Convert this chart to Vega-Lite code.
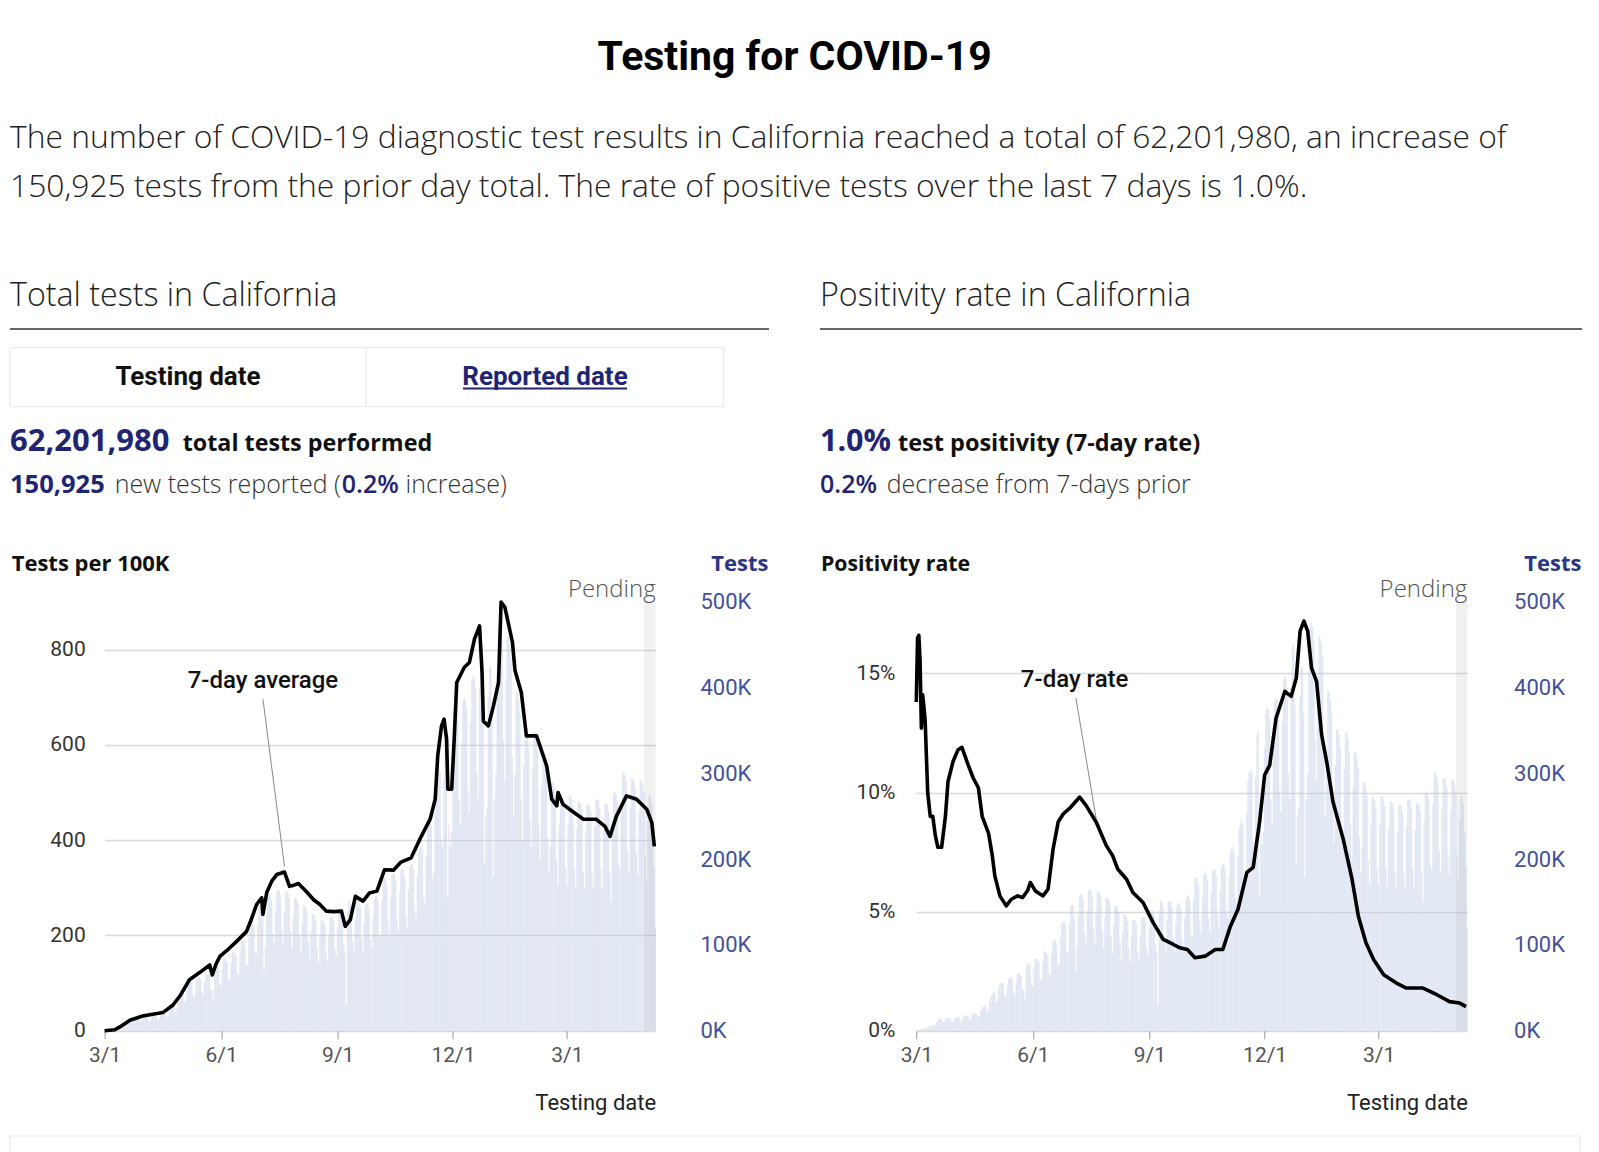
{
"$schema": "https://vega.github.io/schema/vega-lite/v6.json",
"autosize": {"type": "none"},
"padding": {"left": 104.6, "top": 602, "right": 1494.4, "bottom": 550},
"background": "white",
"bounds": "flush",
"spacing": 260.7,
"config": {"font": "Roboto", "view": {"stroke": null}, "axis": {"labelFont": "Roboto", "titleFont": "Roboto"}, "text": {"font": "Roboto"}},
"datasets": {
"tests": [
{"date":"2020-03-01","tests":0.5},{"date":"2020-03-02","tests":1},{"date":"2020-03-03","tests":1.5},{"date":"2020-03-04","tests":2},{"date":"2020-03-05","tests":2.5},{"date":"2020-03-06","tests":3},{"date":"2020-03-07","tests":2},
{"date":"2020-03-08","tests":3},{"date":"2020-03-09","tests":4},{"date":"2020-03-10","tests":5},{"date":"2020-03-11","tests":5},{"date":"2020-03-12","tests":6},{"date":"2020-03-13","tests":7},{"date":"2020-03-14","tests":5},
{"date":"2020-03-15","tests":7},{"date":"2020-03-16","tests":10},{"date":"2020-03-17","tests":12},{"date":"2020-03-18","tests":13},{"date":"2020-03-19","tests":14},{"date":"2020-03-20","tests":14},{"date":"2020-03-21","tests":11},
{"date":"2020-03-22","tests":10},{"date":"2020-03-23","tests":13},{"date":"2020-03-24","tests":15},{"date":"2020-03-25","tests":15},{"date":"2020-03-26","tests":15},{"date":"2020-03-27","tests":15},{"date":"2020-03-28","tests":11},
{"date":"2020-03-29","tests":10},{"date":"2020-03-30","tests":14},{"date":"2020-03-31","tests":16},{"date":"2020-04-01","tests":16},{"date":"2020-04-02","tests":16},{"date":"2020-04-03","tests":15},{"date":"2020-04-04","tests":12},
{"date":"2020-04-05","tests":11},{"date":"2020-04-06","tests":15},{"date":"2020-04-07","tests":18},{"date":"2020-04-08","tests":18},{"date":"2020-04-09","tests":17},{"date":"2020-04-10","tests":17},{"date":"2020-04-11","tests":13},
{"date":"2020-04-12","tests":13},{"date":"2020-04-13","tests":18},{"date":"2020-04-14","tests":21},{"date":"2020-04-15","tests":20},{"date":"2020-04-16","tests":20},{"date":"2020-04-17","tests":19},{"date":"2020-04-18","tests":15},
{"date":"2020-04-19","tests":17},{"date":"2020-04-20","tests":23},{"date":"2020-04-21","tests":27},{"date":"2020-04-22","tests":28},{"date":"2020-04-23","tests":29},{"date":"2020-04-24","tests":29},{"date":"2020-04-25","tests":22},
{"date":"2020-04-26","tests":25},{"date":"2020-04-27","tests":35},{"date":"2020-04-28","tests":40},{"date":"2020-04-29","tests":43},{"date":"2020-04-30","tests":44},{"date":"2020-05-01","tests":45},{"date":"2020-05-02","tests":33},
{"date":"2020-05-03","tests":34},{"date":"2020-05-04","tests":47},{"date":"2020-05-05","tests":54},{"date":"2020-05-06","tests":55},{"date":"2020-05-07","tests":56},{"date":"2020-05-08","tests":56},{"date":"2020-05-09","tests":41},
{"date":"2020-05-10","tests":38},{"date":"2020-05-11","tests":53},{"date":"2020-05-12","tests":61},{"date":"2020-05-13","tests":62},{"date":"2020-05-14","tests":62},{"date":"2020-05-15","tests":60},{"date":"2020-05-16","tests":45},
{"date":"2020-05-17","tests":41},{"date":"2020-05-18","tests":57},{"date":"2020-05-19","tests":66},{"date":"2020-05-20","tests":67},{"date":"2020-05-21","tests":66},{"date":"2020-05-22","tests":64},{"date":"2020-05-23","tests":48},
{"date":"2020-05-24","tests":48},{"date":"2020-05-25","tests":36},{"date":"2020-05-26","tests":75},{"date":"2020-05-27","tests":78},{"date":"2020-05-28","tests":78},{"date":"2020-05-29","tests":76},{"date":"2020-05-30","tests":56},
{"date":"2020-05-31","tests":52},{"date":"2020-06-01","tests":72},{"date":"2020-06-02","tests":84},{"date":"2020-06-03","tests":84},{"date":"2020-06-04","tests":83},{"date":"2020-06-05","tests":80},{"date":"2020-06-06","tests":60},
{"date":"2020-06-07","tests":58},{"date":"2020-06-08","tests":80},{"date":"2020-06-09","tests":93},{"date":"2020-06-10","tests":92},{"date":"2020-06-11","tests":91},{"date":"2020-06-12","tests":88},{"date":"2020-06-13","tests":67},
{"date":"2020-06-14","tests":65},{"date":"2020-06-15","tests":90},{"date":"2020-06-16","tests":104},{"date":"2020-06-17","tests":106},{"date":"2020-06-18","tests":105},{"date":"2020-06-19","tests":100},{"date":"2020-06-20","tests":76},
{"date":"2020-06-21","tests":78},{"date":"2020-06-22","tests":108},{"date":"2020-06-23","tests":125},{"date":"2020-06-24","tests":128},{"date":"2020-06-25","tests":127},{"date":"2020-06-26","tests":122},{"date":"2020-06-27","tests":92},
{"date":"2020-06-28","tests":90},{"date":"2020-06-29","tests":124},{"date":"2020-06-30","tests":145},{"date":"2020-07-01","tests":147},{"date":"2020-07-02","tests":146},{"date":"2020-07-03","tests":130},{"date":"2020-07-04","tests":70},
{"date":"2020-07-05","tests":98},{"date":"2020-07-06","tests":134},{"date":"2020-07-07","tests":157},{"date":"2020-07-08","tests":160},{"date":"2020-07-09","tests":158},{"date":"2020-07-10","tests":152},{"date":"2020-07-11","tests":114},
{"date":"2020-07-12","tests":102},{"date":"2020-07-13","tests":140},{"date":"2020-07-14","tests":163},{"date":"2020-07-15","tests":165},{"date":"2020-07-16","tests":164},{"date":"2020-07-17","tests":158},{"date":"2020-07-18","tests":118},
{"date":"2020-07-19","tests":100},{"date":"2020-07-20","tests":138},{"date":"2020-07-21","tests":162},{"date":"2020-07-22","tests":163},{"date":"2020-07-23","tests":161},{"date":"2020-07-24","tests":155},{"date":"2020-07-25","tests":116},
{"date":"2020-07-26","tests":96},{"date":"2020-07-27","tests":132},{"date":"2020-07-28","tests":154},{"date":"2020-07-29","tests":155},{"date":"2020-07-30","tests":153},{"date":"2020-07-31","tests":148},{"date":"2020-08-01","tests":111},
{"date":"2020-08-02","tests":90},{"date":"2020-08-03","tests":124},{"date":"2020-08-04","tests":146},{"date":"2020-08-05","tests":146},{"date":"2020-08-06","tests":144},{"date":"2020-08-07","tests":138},{"date":"2020-08-08","tests":105},
{"date":"2020-08-09","tests":84},{"date":"2020-08-10","tests":116},{"date":"2020-08-11","tests":136},{"date":"2020-08-12","tests":135},{"date":"2020-08-13","tests":134},{"date":"2020-08-14","tests":128},{"date":"2020-08-15","tests":97},
{"date":"2020-08-16","tests":80},{"date":"2020-08-17","tests":110},{"date":"2020-08-18","tests":129},{"date":"2020-08-19","tests":129},{"date":"2020-08-20","tests":128},{"date":"2020-08-21","tests":124},{"date":"2020-08-22","tests":93},
{"date":"2020-08-23","tests":82},{"date":"2020-08-24","tests":112},{"date":"2020-08-25","tests":131},{"date":"2020-08-26","tests":133},{"date":"2020-08-27","tests":133},{"date":"2020-08-28","tests":128},{"date":"2020-08-29","tests":95},
{"date":"2020-08-30","tests":87},{"date":"2020-08-31","tests":119},{"date":"2020-09-01","tests":139},{"date":"2020-09-02","tests":141},{"date":"2020-09-03","tests":140},{"date":"2020-09-04","tests":135},{"date":"2020-09-05","tests":100},
{"date":"2020-09-06","tests":90},{"date":"2020-09-07","tests":30},{"date":"2020-09-08","tests":140},{"date":"2020-09-09","tests":152},{"date":"2020-09-10","tests":150},{"date":"2020-09-11","tests":145},{"date":"2020-09-12","tests":105},
{"date":"2020-09-13","tests":93},{"date":"2020-09-14","tests":128},{"date":"2020-09-15","tests":150},{"date":"2020-09-16","tests":152},{"date":"2020-09-17","tests":151},{"date":"2020-09-18","tests":145},{"date":"2020-09-19","tests":108},
{"date":"2020-09-20","tests":92},{"date":"2020-09-21","tests":126},{"date":"2020-09-22","tests":147},{"date":"2020-09-23","tests":149},{"date":"2020-09-24","tests":148},{"date":"2020-09-25","tests":142},{"date":"2020-09-26","tests":106},
{"date":"2020-09-27","tests":96},{"date":"2020-09-28","tests":132},{"date":"2020-09-29","tests":154},{"date":"2020-09-30","tests":157},{"date":"2020-10-01","tests":158},{"date":"2020-10-02","tests":152},{"date":"2020-10-03","tests":112},
{"date":"2020-10-04","tests":110},{"date":"2020-10-05","tests":151},{"date":"2020-10-06","tests":176},{"date":"2020-10-07","tests":179},{"date":"2020-10-08","tests":178},{"date":"2020-10-09","tests":170},{"date":"2020-10-10","tests":128},
{"date":"2020-10-11","tests":113},{"date":"2020-10-12","tests":155},{"date":"2020-10-13","tests":182},{"date":"2020-10-14","tests":184},{"date":"2020-10-15","tests":183},{"date":"2020-10-16","tests":176},{"date":"2020-10-17","tests":131},
{"date":"2020-10-18","tests":116},{"date":"2020-10-19","tests":160},{"date":"2020-10-20","tests":187},{"date":"2020-10-21","tests":189},{"date":"2020-10-22","tests":188},{"date":"2020-10-23","tests":180},{"date":"2020-10-24","tests":135},
{"date":"2020-10-25","tests":120},{"date":"2020-10-26","tests":164},{"date":"2020-10-27","tests":191},{"date":"2020-10-28","tests":194},{"date":"2020-10-29","tests":195},{"date":"2020-10-30","tests":188},{"date":"2020-10-31","tests":140},
{"date":"2020-11-01","tests":131},{"date":"2020-11-02","tests":180},{"date":"2020-11-03","tests":208},{"date":"2020-11-04","tests":213},{"date":"2020-11-05","tests":215},{"date":"2020-11-06","tests":208},{"date":"2020-11-07","tests":155},
{"date":"2020-11-08","tests":148},{"date":"2020-11-09","tests":204},{"date":"2020-11-10","tests":236},{"date":"2020-11-11","tests":242},{"date":"2020-11-12","tests":246},{"date":"2020-11-13","tests":240},{"date":"2020-11-14","tests":178},
{"date":"2020-11-15","tests":185},{"date":"2020-11-16","tests":255},{"date":"2020-11-17","tests":292},{"date":"2020-11-18","tests":300},{"date":"2020-11-19","tests":305},{"date":"2020-11-20","tests":300},{"date":"2020-11-21","tests":222},
{"date":"2020-11-22","tests":215},{"date":"2020-11-23","tests":295},{"date":"2020-11-24","tests":345},{"date":"2020-11-25","tests":350},{"date":"2020-11-26","tests":155},{"date":"2020-11-27","tests":240},{"date":"2020-11-28","tests":215},
{"date":"2020-11-29","tests":232},{"date":"2020-11-30","tests":330},{"date":"2020-12-01","tests":374},{"date":"2020-12-02","tests":378},{"date":"2020-12-03","tests":375},{"date":"2020-12-04","tests":365},{"date":"2020-12-05","tests":270},
{"date":"2020-12-06","tests":240},{"date":"2020-12-07","tests":335},{"date":"2020-12-08","tests":384},{"date":"2020-12-09","tests":388},{"date":"2020-12-10","tests":386},{"date":"2020-12-11","tests":375},{"date":"2020-12-12","tests":280},
{"date":"2020-12-13","tests":255},{"date":"2020-12-14","tests":360},{"date":"2020-12-15","tests":410},{"date":"2020-12-16","tests":414},{"date":"2020-12-17","tests":412},{"date":"2020-12-18","tests":400},{"date":"2020-12-19","tests":300},
{"date":"2020-12-20","tests":270},{"date":"2020-12-21","tests":400},{"date":"2020-12-22","tests":448},{"date":"2020-12-23","tests":450},{"date":"2020-12-24","tests":380},{"date":"2020-12-25","tests":195},{"date":"2020-12-26","tests":250},
{"date":"2020-12-27","tests":260},{"date":"2020-12-28","tests":390},{"date":"2020-12-29","tests":424},{"date":"2020-12-30","tests":425},{"date":"2020-12-31","tests":370},{"date":"2021-01-01","tests":180},{"date":"2021-01-02","tests":270},
{"date":"2021-01-03","tests":300},{"date":"2021-01-04","tests":420},{"date":"2021-01-05","tests":470},{"date":"2021-01-06","tests":477},{"date":"2021-01-07","tests":472},{"date":"2021-01-08","tests":455},{"date":"2021-01-09","tests":340},
{"date":"2021-01-10","tests":290},{"date":"2021-01-11","tests":410},{"date":"2021-01-12","tests":460},{"date":"2021-01-13","tests":458},{"date":"2021-01-14","tests":450},{"date":"2021-01-15","tests":435},{"date":"2021-01-16","tests":320},
{"date":"2021-01-17","tests":250},{"date":"2021-01-18","tests":300},{"date":"2021-01-19","tests":397},{"date":"2021-01-20","tests":395},{"date":"2021-01-21","tests":385},{"date":"2021-01-22","tests":370},{"date":"2021-01-23","tests":270},
{"date":"2021-01-24","tests":220},{"date":"2021-01-25","tests":310},{"date":"2021-01-26","tests":351},{"date":"2021-01-27","tests":352},{"date":"2021-01-28","tests":345},{"date":"2021-01-29","tests":330},{"date":"2021-01-30","tests":245},
{"date":"2021-01-31","tests":215},{"date":"2021-02-01","tests":305},{"date":"2021-02-02","tests":348},{"date":"2021-02-03","tests":349},{"date":"2021-02-04","tests":340},{"date":"2021-02-05","tests":325},{"date":"2021-02-06","tests":240},
{"date":"2021-02-07","tests":200},{"date":"2021-02-08","tests":285},{"date":"2021-02-09","tests":324},{"date":"2021-02-10","tests":325},{"date":"2021-02-11","tests":318},{"date":"2021-02-12","tests":305},{"date":"2021-02-13","tests":225},
{"date":"2021-02-14","tests":185},{"date":"2021-02-15","tests":215},{"date":"2021-02-16","tests":289},{"date":"2021-02-17","tests":290},{"date":"2021-02-18","tests":285},{"date":"2021-02-19","tests":275},{"date":"2021-02-20","tests":200},
{"date":"2021-02-21","tests":170},{"date":"2021-02-22","tests":240},{"date":"2021-02-23","tests":271},{"date":"2021-02-24","tests":272},{"date":"2021-02-25","tests":268},{"date":"2021-02-26","tests":260},{"date":"2021-02-27","tests":190},
{"date":"2021-02-28","tests":170},{"date":"2021-03-01","tests":240},{"date":"2021-03-02","tests":273},{"date":"2021-03-03","tests":275},{"date":"2021-03-04","tests":270},{"date":"2021-03-05","tests":262},{"date":"2021-03-06","tests":190},
{"date":"2021-03-07","tests":168},{"date":"2021-03-08","tests":236},{"date":"2021-03-09","tests":267},{"date":"2021-03-10","tests":268},{"date":"2021-03-11","tests":265},{"date":"2021-03-12","tests":258},{"date":"2021-03-13","tests":186},
{"date":"2021-03-14","tests":165},{"date":"2021-03-15","tests":232},{"date":"2021-03-16","tests":263},{"date":"2021-03-17","tests":264},{"date":"2021-03-18","tests":262},{"date":"2021-03-19","tests":255},{"date":"2021-03-20","tests":184},
{"date":"2021-03-21","tests":168},{"date":"2021-03-22","tests":238},{"date":"2021-03-23","tests":269},{"date":"2021-03-24","tests":270},{"date":"2021-03-25","tests":268},{"date":"2021-03-26","tests":260},{"date":"2021-03-27","tests":188},
{"date":"2021-03-28","tests":165},{"date":"2021-03-29","tests":234},{"date":"2021-03-30","tests":265},{"date":"2021-03-31","tests":266},{"date":"2021-04-01","tests":264},{"date":"2021-04-02","tests":256},{"date":"2021-04-03","tests":185},
{"date":"2021-04-04","tests":150},{"date":"2021-04-05","tests":244},{"date":"2021-04-06","tests":277},{"date":"2021-04-07","tests":278},{"date":"2021-04-08","tests":275},{"date":"2021-04-09","tests":268},{"date":"2021-04-10","tests":194},
{"date":"2021-04-11","tests":188},{"date":"2021-04-12","tests":265},{"date":"2021-04-13","tests":300},{"date":"2021-04-14","tests":302},{"date":"2021-04-15","tests":298},{"date":"2021-04-16","tests":290},{"date":"2021-04-17","tests":210},
{"date":"2021-04-18","tests":184},{"date":"2021-04-19","tests":260},{"date":"2021-04-20","tests":294},{"date":"2021-04-21","tests":295},{"date":"2021-04-22","tests":292},{"date":"2021-04-23","tests":284},{"date":"2021-04-24","tests":206},
{"date":"2021-04-25","tests":182},{"date":"2021-04-26","tests":257},{"date":"2021-04-27","tests":292},{"date":"2021-04-28","tests":292},{"date":"2021-04-29","tests":288},{"date":"2021-04-30","tests":280},{"date":"2021-05-01","tests":204},
{"date":"2021-05-02","tests":175},{"date":"2021-05-03","tests":245},{"date":"2021-05-04","tests":275},{"date":"2021-05-05","tests":273},{"date":"2021-05-06","tests":265},{"date":"2021-05-07","tests":230},{"date":"2021-05-08","tests":190},
{"date":"2021-05-09","tests":120}
],
"avg": [
{"date":"2020-03-01","value":0},{"date":"2020-03-09","value":2},{"date":"2020-03-13","value":8},{"date":"2020-03-21","value":22},{"date":"2020-03-31","value":31},{"date":"2020-04-16","value":38},{"date":"2020-04-24","value":54},{"date":"2020-04-30","value":75},{"date":"2020-05-07","value":107},{"date":"2020-05-15","value":122},{"date":"2020-05-23","value":138},{"date":"2020-05-25","value":117},{"date":"2020-05-28","value":140},{"date":"2020-05-31","value":156},{"date":"2020-06-07","value":172},{"date":"2020-06-13","value":187},{"date":"2020-06-21","value":208},{"date":"2020-06-25","value":235},{"date":"2020-06-29","value":265},{"date":"2020-07-03","value":279},{"date":"2020-07-04","value":244},{"date":"2020-07-07","value":290},{"date":"2020-07-11","value":314},{"date":"2020-07-15","value":328},{"date":"2020-07-21","value":333},{"date":"2020-07-25","value":303},{"date":"2020-07-29","value":306},{"date":"2020-08-01","value":309},{"date":"2020-08-08","value":290},{"date":"2020-08-13","value":275},{"date":"2020-08-18","value":265},{"date":"2020-08-23","value":251},{"date":"2020-08-29","value":250},{"date":"2020-09-04","value":251},{"date":"2020-09-07","value":219},{"date":"2020-09-11","value":233},{"date":"2020-09-15","value":282},{"date":"2020-09-21","value":272},{"date":"2020-09-26","value":289},{"date":"2020-10-02","value":293},{"date":"2020-10-08","value":338},{"date":"2020-10-15","value":337},{"date":"2020-10-21","value":354},{"date":"2020-10-29","value":363},{"date":"2020-11-06","value":408},{"date":"2020-11-13","value":444},{"date":"2020-11-17","value":486},{"date":"2020-11-19","value":577},{"date":"2020-11-22","value":640},{"date":"2020-11-24","value":654},{"date":"2020-11-26","value":612},{"date":"2020-11-27","value":507},{"date":"2020-11-30","value":507},{"date":"2020-12-02","value":612},{"date":"2020-12-04","value":731},{"date":"2020-12-10","value":763},{"date":"2020-12-14","value":773},{"date":"2020-12-18","value":822},{"date":"2020-12-22","value":850},{"date":"2020-12-24","value":752},{"date":"2020-12-25","value":650},{"date":"2020-12-29","value":640},{"date":"2021-01-02","value":682},{"date":"2021-01-06","value":731},{"date":"2021-01-08","value":900},{"date":"2021-01-11","value":889},{"date":"2021-01-17","value":815},{"date":"2021-01-19","value":756},{"date":"2021-01-24","value":710},{"date":"2021-01-28","value":619},{"date":"2021-02-05","value":619},{"date":"2021-02-13","value":556},{"date":"2021-02-17","value":486},{"date":"2021-02-21","value":472},{"date":"2021-02-22","value":500},{"date":"2021-02-26","value":475},{"date":"2021-03-03","value":465},{"date":"2021-03-14","value":444},{"date":"2021-03-24","value":444},{"date":"2021-03-31","value":429},{"date":"2021-04-04","value":408},{"date":"2021-04-09","value":450},{"date":"2021-04-17","value":493},{"date":"2021-04-25","value":486},{"date":"2021-05-03","value":465},{"date":"2021-05-07","value":437},{"date":"2021-05-09","value":387}
],
"rate": [
{"date":"2020-03-01","value":13.8},{"date":"2020-03-02","value":16.5},{"date":"2020-03-03","value":16.6},{"date":"2020-03-04","value":15.5},{"date":"2020-03-05","value":12.7},{"date":"2020-03-06","value":14.1},{"date":"2020-03-07","value":13.6},{"date":"2020-03-08","value":13.0},{"date":"2020-03-10","value":10.0},{"date":"2020-03-12","value":9.0},{"date":"2020-03-14","value":9.0},{"date":"2020-03-16","value":8.2},{"date":"2020-03-18","value":7.7},{"date":"2020-03-21","value":7.7},{"date":"2020-03-24","value":9.0},{"date":"2020-03-26","value":10.45},{"date":"2020-03-30","value":11.3},{"date":"2020-04-03","value":11.8},{"date":"2020-04-06","value":11.9},{"date":"2020-04-08","value":11.6},{"date":"2020-04-11","value":11.15},{"date":"2020-04-15","value":10.6},{"date":"2020-04-19","value":10.2},{"date":"2020-04-22","value":9.0},{"date":"2020-04-27","value":8.3},{"date":"2020-04-30","value":7.35},{"date":"2020-05-02","value":6.5},{"date":"2020-05-06","value":5.66},{"date":"2020-05-11","value":5.24},{"date":"2020-05-15","value":5.52},{"date":"2020-05-20","value":5.66},{"date":"2020-05-24","value":5.59},{"date":"2020-05-28","value":5.9},{"date":"2020-05-30","value":6.22},{"date":"2020-06-03","value":5.87},{"date":"2020-06-09","value":5.66},{"date":"2020-06-13","value":5.94},{"date":"2020-06-17","value":7.63},{"date":"2020-06-21","value":8.76},{"date":"2020-06-25","value":9.1},{"date":"2020-07-01","value":9.39},{"date":"2020-07-08","value":9.81},{"date":"2020-07-13","value":9.46},{"date":"2020-07-21","value":8.76},{"date":"2020-07-29","value":7.77},{"date":"2020-08-03","value":7.35},{"date":"2020-08-07","value":6.79},{"date":"2020-08-14","value":6.36},{"date":"2020-08-19","value":5.8},{"date":"2020-08-27","value":5.38},{"date":"2020-09-04","value":4.54},{"date":"2020-09-12","value":3.83},{"date":"2020-09-20","value":3.62},{"date":"2020-09-25","value":3.48},{"date":"2020-10-01","value":3.41},{"date":"2020-10-07","value":3.06},{"date":"2020-10-15","value":3.13},{"date":"2020-10-23","value":3.41},{"date":"2020-10-29","value":3.41},{"date":"2020-11-04","value":4.39},{"date":"2020-11-10","value":5.1},{"date":"2020-11-17","value":6.65},{"date":"2020-11-22","value":6.86},{"date":"2020-11-27","value":8.76},{"date":"2020-12-01","value":10.73},{"date":"2020-12-05","value":11.15},{"date":"2020-12-10","value":13.12},{"date":"2020-12-17","value":14.25},{"date":"2020-12-22","value":14.04},{"date":"2020-12-26","value":14.81},{"date":"2020-12-29","value":16.78},{"date":"2021-01-01","value":17.2},{"date":"2021-01-04","value":16.78},{"date":"2021-01-07","value":15.23},{"date":"2021-01-11","value":14.67},{"date":"2021-01-15","value":12.42},{"date":"2021-01-19","value":11.29},{"date":"2021-01-24","value":9.6},{"date":"2021-02-01","value":8.05},{"date":"2021-02-08","value":6.36},{"date":"2021-02-13","value":4.81},{"date":"2021-02-19","value":3.69},{"date":"2021-02-25","value":2.99},{"date":"2021-03-05","value":2.35},{"date":"2021-03-15","value":2.0},{"date":"2021-03-23","value":1.79},{"date":"2021-04-05","value":1.79},{"date":"2021-04-16","value":1.51},{"date":"2021-04-26","value":1.22},{"date":"2021-05-04","value":1.16},{"date":"2021-05-09","value":1.01}
]
},
"hconcat": [
{
"width": 551, "height": 428.7,
"resolve": {"scale": {"y": "independent"}},
"layer": [
{"data": {"name": "tests"},
 "mark": {"type": "bar", "color": "#bccae4", "opacity": 0.45, "binSpacing": 0},
 "encoding": {
  "x": {"field": "date", "type": "temporal", "timeUnit": "utcyearmonthdate", "title": "Testing date",
   "scale": {"type": "utc", "domain": [{"year": 2020, "month": 3, "date": 1, "utc": true}, {"year": 2021, "month": 5, "date": 10, "utc": true}]},
   "axis": {"values": [{"year": 2020, "month": 3, "date": 1, "utc": true}, {"year": 2020, "month": 6, "date": 1, "utc": true}, {"year": 2020, "month": 9, "date": 1, "utc": true}, {"year": 2020, "month": 12, "date": 1, "utc": true}, {"year": 2021, "month": 3, "date": 1, "utc": true}],
    "labelExpr": "utcFormat(datum.value, '%-m/%-d')", "labelFontSize": 21, "labelColor": "#555", "labelFlush": false, "labelOverlap": false, "labelPadding": 6,
    "ticks": true, "tickSize": 8, "tickColor": "#999", "domain": false, "grid": false,
    "title": "Testing date", "titleX": 551, "titleY": 79.3, "titleAlign": "right", "titleBaseline": "alphabetic", "titleFontSize": 22, "titleFontWeight": "normal", "titleColor": "#222"}},
  "y": {"field": "tests", "type": "quantitative", "scale": {"domain": [0, 500]},
   "axis": {"orient": "right", "values": [0, 100, 200, 300, 400, 500], "labelExpr": "datum.value + 'K'", "grid": false, "domain": false, "ticks": false, "tickSize": 0,
    "labelPadding": 44.4, "labelFontSize": 22, "labelColor": "#44519a", "labelAlign": "left", "labelOverlap": false,
    "title": "Tests", "titleFont": "Open Sans", "titleAngle": 0, "titleX": 112.3, "titleY": -31.3, "titleAlign": "right", "titleBaseline": "alphabetic", "titleFontSize": 22, "titleFontWeight": "bold", "titleColor": "#2b3580"}}
 }},
{"data": {"values": [{"start": "2021-05-01", "end": "2021-05-10"}]},
 "mark": {"type": "rect", "color": "#999999", "opacity": 0.14},
 "encoding": {"x": {"field": "start", "type": "temporal", "title": "Testing date"}, "x2": {"field": "end"}}},
{"layer": [
 {"data": {"name": "avg"},
  "mark": {"type": "line", "color": "#000000", "strokeWidth": 3.6, "strokeJoin": "round"},
  "encoding": {
   "x": {"field": "date", "type": "temporal", "title": "Testing date"},
   "y": {"field": "value", "type": "quantitative", "scale": {"domain": [0, 900]},
    "axis": {"orient": "left", "values": [0, 200, 400, 600, 800], "grid": true, "gridColor": "#d9d9d9", "gridWidth": 1.5, "domain": false, "ticks": false, "tickSize": 0,
     "labelPadding": 19.4, "labelFontSize": 21, "labelColor": "#333", "labelOverlap": false,
     "title": "Tests per 100K", "titleFont": "Open Sans", "titleAngle": 0, "titleX": -93.4, "titleY": -31.3, "titleAlign": "left", "titleBaseline": "alphabetic", "titleFontSize": 22, "titleFontWeight": "bold", "titleColor": "#111"}}}},
 {"data": {"values": [{"date": "2020-07-04", "date2": "2020-07-21", "value": 696, "value2": 345}]},
  "mark": {"type": "rule", "color": "#888", "strokeWidth": 1},
  "encoding": {"x": {"field": "date", "type": "temporal", "title": "Testing date"}, "x2": {"field": "date2"}, "y": {"field": "value", "type": "quantitative"}, "y2": {"field": "value2"}}},
 {"data": {"values": [{"date": "2020-07-04", "value": 719, "label": "7-day average"}]},
  "mark": {"type": "text", "fontSize": 24, "fontWeight": 500, "color": "#111", "align": "center", "baseline": "alphabetic"},
  "encoding": {"x": {"field": "date", "type": "temporal", "title": "Testing date"}, "y": {"field": "value", "type": "quantitative"}, "text": {"field": "label"}}},
 {"data": {"values": [{"date": "2021-05-10", "value": 900, "label": "Pending"}]},
  "mark": {"type": "text", "font": "Open Sans", "fontSize": 24, "fontWeight": 300, "color": "#555", "align": "right", "baseline": "alphabetic", "dy": -5.3},
  "encoding": {"x": {"field": "date", "type": "temporal", "title": "Testing date"}, "y": {"field": "value", "type": "quantitative"}, "text": {"field": "label"}}}
]},
{"data": {"values": [{"label": "Testing for COVID-19"}]}, "mark": {"type": "text", "x": 690.1, "y": -532, "align": "center", "baseline": "alphabetic", "fontSize": 41, "fontWeight": "bold", "color": "#000"}, "encoding": {"text": {"field": "label"}}},
{"data": {"values": [{"label": "The number of COVID-19 diagnostic test results in California reached a total of 62,201,980, an increase of"}]}, "mark": {"type": "text", "x": -94.6, "y": -453.7, "align": "left", "baseline": "alphabetic", "font": "Open Sans", "fontSize": 31.8, "fontWeight": 300, "color": "#222"}, "encoding": {"text": {"field": "label"}}},
{"data": {"values": [{"label": "150,925 tests from the prior day total. The rate of positive tests over the last 7 days is 1.0%."}]}, "mark": {"type": "text", "x": -94.6, "y": -405.3, "align": "left", "baseline": "alphabetic", "font": "Open Sans", "fontSize": 31.8, "fontWeight": 300, "color": "#222"}, "encoding": {"text": {"field": "label"}}},
{"data": {"values": [{"label": "Total tests in California"}]}, "mark": {"type": "text", "x": -94.6, "y": -296, "align": "left", "baseline": "alphabetic", "font": "Open Sans", "fontSize": 32.2, "fontWeight": 300, "color": "#222"}, "encoding": {"text": {"field": "label"}}},
{"data": {"values": [{}]}, "mark": {"type": "rect", "x": -94.6, "x2": 664.4, "y": -274, "y2": -272, "fill": "#666666"}, "encoding": {}},
{"data": {"values": [{}]}, "mark": {"type": "rect", "x": -94.6, "x2": 618.9, "y": -254.3, "y2": -195.3, "fill": "#ffffff", "stroke": "#e8e8e8", "strokeWidth": 1}, "encoding": {}},
{"data": {"values": [{}]}, "mark": {"type": "rect", "x": 260.9, "x2": 261.9, "y": -254.3, "y2": -195.3, "fill": "#e8e8e8"}, "encoding": {}},
{"data": {"values": [{"label": "Testing date"}]}, "mark": {"type": "text", "x": 83.4, "y": -217, "align": "center", "baseline": "alphabetic", "fontSize": 26, "fontWeight": "bold", "color": "#111"}, "encoding": {"text": {"field": "label"}}},
{"data": {"values": [{"label": "Reported date"}]}, "mark": {"type": "text", "x": 440.4, "y": -217, "align": "center", "baseline": "alphabetic", "fontSize": 26, "fontWeight": "bold", "color": "#1f2574"}, "encoding": {"text": {"field": "label"}}},
{"data": {"values": [{}]}, "mark": {"type": "rect", "x": 358.4, "x2": 522.4, "y": -214.5, "y2": -212.5, "fill": "#1f2574"}, "encoding": {}},
{"data": {"values": [{"label": "62,201,980"}]}, "mark": {"type": "text", "x": -94.6, "y": -151.3, "align": "left", "baseline": "alphabetic", "font": "Open Sans", "fontSize": 31, "fontWeight": "bold", "color": "#1f2574"}, "encoding": {"text": {"field": "label"}}},
{"data": {"values": [{"label": "total tests performed"}]}, "mark": {"type": "text", "x": 78.1, "y": -151.3, "align": "left", "baseline": "alphabetic", "font": "Open Sans", "fontSize": 23.3, "fontWeight": "bold", "color": "#111"}, "encoding": {"text": {"field": "label"}}},
{"data": {"values": [{"label": "150,925"}]}, "mark": {"type": "text", "x": -94.6, "y": -108.7, "align": "left", "baseline": "alphabetic", "font": "Open Sans", "fontSize": 25.5, "fontWeight": "bold", "color": "#1f2574"}, "encoding": {"text": {"field": "label"}}},
{"data": {"values": [{"label": "new tests reported ("}]}, "mark": {"type": "text", "x": 236.2, "y": -108.7, "align": "right", "baseline": "alphabetic", "font": "Open Sans", "fontSize": 25, "fontWeight": 300, "color": "#333"}, "encoding": {"text": {"field": "label"}}},
{"data": {"values": [{"label": "0.2%"}]}, "mark": {"type": "text", "x": 237.2, "y": -108.7, "align": "left", "baseline": "alphabetic", "font": "Open Sans", "fontSize": 25, "fontWeight": 600, "color": "#1f2574"}, "encoding": {"text": {"field": "label"}}},
{"data": {"values": [{"label": "increase)"}]}, "mark": {"type": "text", "x": 301, "y": -108.7, "align": "left", "baseline": "alphabetic", "font": "Open Sans", "fontSize": 25, "fontWeight": 300, "color": "#333"}, "encoding": {"text": {"field": "label"}}},
{"data": {"values": [{}]}, "mark": {"type": "rect", "x": -94.6, "x2": 1475.4, "y": 534, "y2": 600, "fill": null, "stroke": "#eceef5", "strokeWidth": 1.5}, "encoding": {}}
]
},
{
"width": 551, "height": 428.7,
"resolve": {"scale": {"y": "independent"}},
"layer": [
{"data": {"name": "tests"},
 "mark": {"type": "bar", "color": "#bccae4", "opacity": 0.45, "binSpacing": 0},
 "encoding": {
  "x": {"field": "date", "type": "temporal", "timeUnit": "utcyearmonthdate", "title": "Testing date",
   "scale": {"type": "utc", "domain": [{"year": 2020, "month": 3, "date": 1, "utc": true}, {"year": 2021, "month": 5, "date": 10, "utc": true}]},
   "axis": {"values": [{"year": 2020, "month": 3, "date": 1, "utc": true}, {"year": 2020, "month": 6, "date": 1, "utc": true}, {"year": 2020, "month": 9, "date": 1, "utc": true}, {"year": 2020, "month": 12, "date": 1, "utc": true}, {"year": 2021, "month": 3, "date": 1, "utc": true}],
    "labelExpr": "utcFormat(datum.value, '%-m/%-d')", "labelFontSize": 21, "labelColor": "#555", "labelFlush": false, "labelOverlap": false, "labelPadding": 6,
    "ticks": true, "tickSize": 8, "tickColor": "#999", "domain": false, "grid": false,
    "title": "Testing date", "titleX": 551, "titleY": 79.3, "titleAlign": "right", "titleBaseline": "alphabetic", "titleFontSize": 22, "titleFontWeight": "normal", "titleColor": "#222"}},
  "y": {"field": "tests", "type": "quantitative", "scale": {"domain": [0, 500]},
   "axis": {"orient": "right", "values": [0, 100, 200, 300, 400, 500], "labelExpr": "datum.value + 'K'", "grid": false, "domain": false, "ticks": false, "tickSize": 0,
    "labelPadding": 46.3, "labelFontSize": 22, "labelColor": "#44519a", "labelAlign": "left", "labelOverlap": false,
    "title": "Tests", "titleFont": "Open Sans", "titleAngle": 0, "titleX": 113.6, "titleY": -31.3, "titleAlign": "right", "titleBaseline": "alphabetic", "titleFontSize": 22, "titleFontWeight": "bold", "titleColor": "#2b3580"}}
 }},
{"data": {"values": [{"start": "2021-05-01", "end": "2021-05-10"}]},
 "mark": {"type": "rect", "color": "#999999", "opacity": 0.14},
 "encoding": {"x": {"field": "start", "type": "temporal", "title": "Testing date"}, "x2": {"field": "end"}}},
{"layer": [
 {"data": {"name": "rate"},
  "mark": {"type": "line", "color": "#000000", "strokeWidth": 3.6, "strokeJoin": "round"},
  "encoding": {
   "x": {"field": "date", "type": "temporal", "title": "Testing date"},
   "y": {"field": "value", "type": "quantitative", "scale": {"domain": [0, 18]},
    "axis": {"orient": "left", "values": [0, 5, 10, 15], "labelExpr": "datum.value + '%'", "grid": true, "gridColor": "#d9d9d9", "gridWidth": 1.5, "domain": false, "ticks": false, "tickSize": 0,
     "labelPadding": 21.3, "labelFontSize": 21, "labelColor": "#333", "labelOverlap": false,
     "title": "Positivity rate", "titleFont": "Open Sans", "titleAngle": 0, "titleX": -95.9, "titleY": -31.3, "titleAlign": "left", "titleBaseline": "alphabetic", "titleFontSize": 21.3, "titleFontWeight": "bold", "titleColor": "#111"}}}},
 {"data": {"values": [{"date": "2020-07-05", "date2": "2020-07-21", "value": 13.97, "value2": 8.9}]},
  "mark": {"type": "rule", "color": "#888", "strokeWidth": 1},
  "encoding": {"x": {"field": "date", "type": "temporal", "title": "Testing date"}, "x2": {"field": "date2"}, "y": {"field": "value", "type": "quantitative"}, "y2": {"field": "value2"}}},
 {"data": {"values": [{"date": "2020-07-04", "value": 14.42, "label": "7-day rate"}]},
  "mark": {"type": "text", "fontSize": 24, "fontWeight": 500, "color": "#111", "align": "center", "baseline": "alphabetic"},
  "encoding": {"x": {"field": "date", "type": "temporal", "title": "Testing date"}, "y": {"field": "value", "type": "quantitative"}, "text": {"field": "label"}}},
 {"data": {"values": [{"date": "2021-05-10", "value": 18, "label": "Pending"}]},
  "mark": {"type": "text", "font": "Open Sans", "fontSize": 24, "fontWeight": 300, "color": "#555", "align": "right", "baseline": "alphabetic", "dy": -5.3},
  "encoding": {"x": {"field": "date", "type": "temporal", "title": "Testing date"}, "y": {"field": "value", "type": "quantitative"}, "text": {"field": "label"}}}
]},
{"data": {"values": [{"label": "Positivity rate in California"}]}, "mark": {"type": "text", "x": -96.3, "y": -296, "align": "left", "baseline": "alphabetic", "font": "Open Sans", "fontSize": 32.2, "fontWeight": 300, "color": "#222"}, "encoding": {"text": {"field": "label"}}},
{"data": {"values": [{}]}, "mark": {"type": "rect", "x": -96.3, "x2": 665.7, "y": -274, "y2": -272, "fill": "#666666"}, "encoding": {}},
{"data": {"values": [{"label": "1.0%"}]}, "mark": {"type": "text", "x": -96.3, "y": -151.3, "align": "left", "baseline": "alphabetic", "font": "Open Sans", "fontSize": 30.5, "fontWeight": "bold", "color": "#1f2574"}, "encoding": {"text": {"field": "label"}}},
{"data": {"values": [{"label": "test positivity (7-day rate)"}]}, "mark": {"type": "text", "x": -18.3, "y": -151.3, "align": "left", "baseline": "alphabetic", "font": "Open Sans", "fontSize": 23.5, "fontWeight": "bold", "color": "#111"}, "encoding": {"text": {"field": "label"}}},
{"data": {"values": [{"label": "0.2%"}]}, "mark": {"type": "text", "x": -96.3, "y": -108.7, "align": "left", "baseline": "alphabetic", "font": "Open Sans", "fontSize": 25, "fontWeight": 600, "color": "#1f2574"}, "encoding": {"text": {"field": "label"}}},
{"data": {"values": [{"label": "decrease from 7-days prior"}]}, "mark": {"type": "text", "x": -29.6, "y": -108.7, "align": "left", "baseline": "alphabetic", "font": "Open Sans", "fontSize": 25, "fontWeight": 300, "color": "#333"}, "encoding": {"text": {"field": "label"}}}
]
}
]
}
